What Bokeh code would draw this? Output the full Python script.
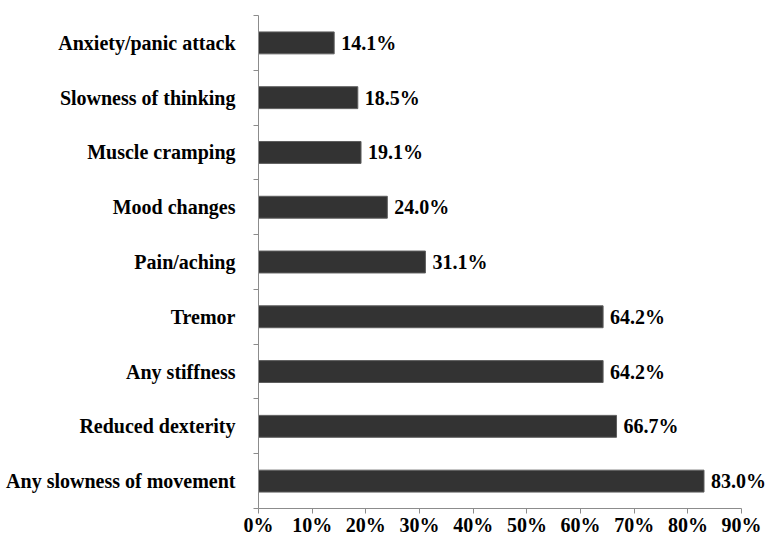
from bokeh.plotting import figure
from bokeh.models import ColumnDataSource, LabelSet, FixedTicker, Range1d
from bokeh.embed import file_html
from bokeh.resources import INLINE

# Data (bottom to top)
categories = ["Any slowness of movement", "Reduced dexterity", "Any stiffness", "Tremor",
              "Pain/aching", "Mood changes", "Muscle cramping", "Slowness of thinking",
              "Anxiety/panic attack"]
values = [83.0, 66.7, 64.2, 64.2, 31.1, 24.0, 19.1, 18.5, 14.1]
value_labels = ["83.0%", "66.7%", "64.2%", "64.2%", "31.1%", "24.0%", "19.1%", "18.5%", "14.1%"]
x_ticks = [0, 10, 20, 30, 40, 50, 60, 70, 80, 90]
x_tick_labels = ["0%", "10%", "20%", "30%", "40%", "50%", "60%", "70%", "80%", "90%"]

FONT = "Liberation Serif"
n = len(categories)
ypos = list(range(1, n + 1))

src = ColumnDataSource(dict(y=ypos, v=values, lab=value_labels))

p = figure(width=769, height=539, output_backend="svg", toolbar_location=None,
           x_range=Range1d(0, 95.2), y_range=Range1d(0.5, n + 0.5),
           min_border_left=258, min_border_right=0, min_border_top=15, min_border_bottom=31)
p.outline_line_color = None
p.xgrid.visible = False
p.ygrid.visible = False

p.hbar(y="y", right="v", left=0, height=0.4, source=src,
       fill_color="#333333", line_color="#5e5e5e", line_width=1)

labels = LabelSet(x="v", y="y", text="lab", source=src, x_offset=7,
                  text_baseline="middle", text_align="left",
                  text_font=FONT, text_font_style="bold", text_font_size="20px",
                  text_color="black")
p.add_layout(labels)

axis_color = "#8c8c8c"

# x axis
xa = p.xaxis[0]
xa.bounds = (x_ticks[0], x_ticks[-1])
xa.ticker = FixedTicker(ticks=x_ticks)
xa.major_label_overrides = {t: l for t, l in zip(x_ticks, x_tick_labels)}
xa.axis_line_color = axis_color
xa.major_tick_line_color = axis_color
xa.major_tick_out = 5
xa.major_tick_in = 0
xa.minor_tick_line_color = None
xa.major_label_standoff = 0
xa.major_label_text_font = FONT
xa.major_label_text_font_style = "bold"
xa.major_label_text_font_size = "20px"
xa.major_label_text_color = "black"

# y axis
ya = p.yaxis[0]
ya.ticker = FixedTicker(ticks=ypos, minor_ticks=[i + 0.5 for i in range(0, n + 1)])
ya.major_label_overrides = {y: c for y, c in zip(ypos, categories)}
ya.axis_line_color = axis_color
ya.major_tick_line_color = None
ya.major_tick_out = 0
ya.major_tick_in = 0
ya.minor_tick_line_color = axis_color
ya.minor_tick_out = 5
ya.minor_tick_in = 0
ya.major_label_standoff = 18
ya.major_label_text_font = FONT
ya.major_label_text_font_style = "bold"
ya.major_label_text_font_size = "20px"
ya.major_label_text_color = "black"

open("out.html", "w").write(file_html(p, INLINE))
